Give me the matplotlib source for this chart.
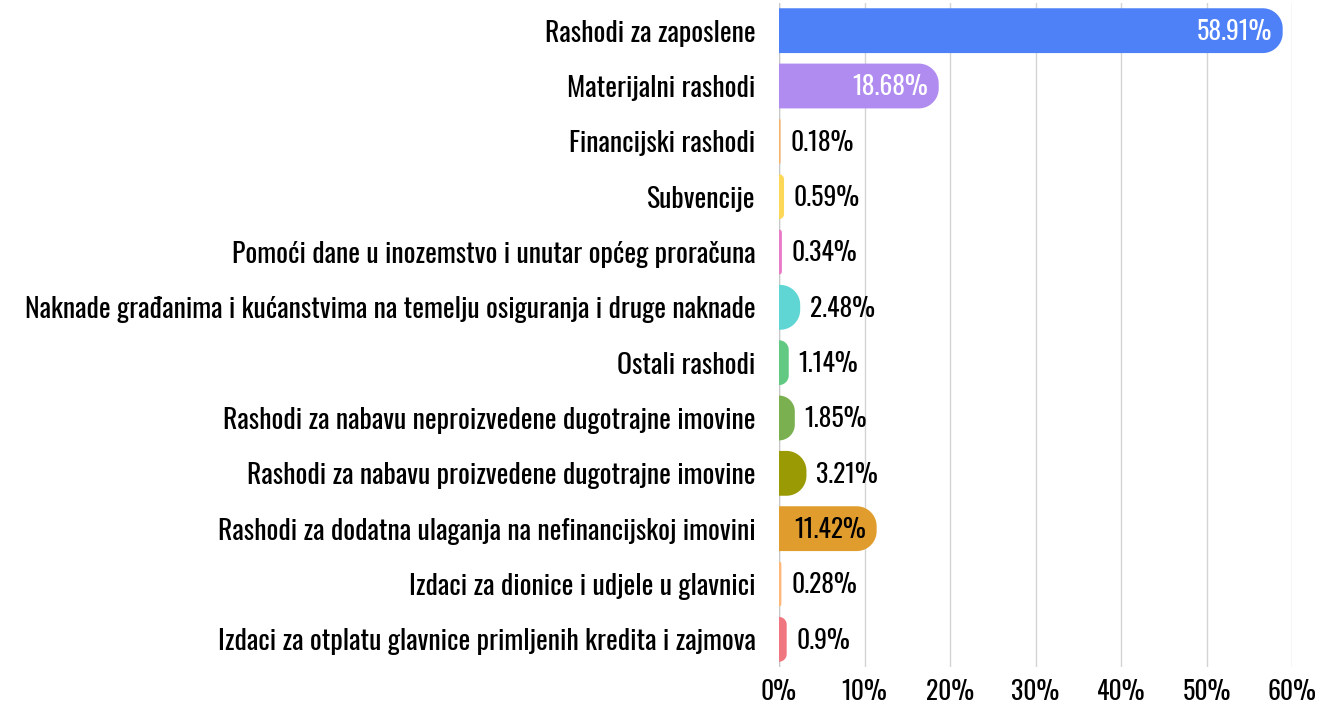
import numpy as np
import matplotlib
matplotlib.use("Agg")
from matplotlib import pyplot as plt
from matplotlib.patches import Polygon

## data
categories = [
    "Rashodi za zaposlene",
    "Materijalni rashodi",
    "Financijski rashodi",
    "Subvencije",
    "Pomoći dane u inozemstvo i unutar općeg proračuna",
    "Naknade građanima i kućanstvima na temelju osiguranja i druge naknade",
    "Ostali rashodi",
    "Rashodi za nabavu neproizvedene dugotrajne imovine",
    "Rashodi za nabavu proizvedene dugotrajne imovine",
    "Rashodi za dodatna ulaganja na nefinancijskoj imovini",
    "Izdaci za dionice i udjele u glavnici",
    "Izdaci za otplatu glavnice primljenih kredita i zajmova",
]
values = [58.91, 18.68, 0.18, 0.59, 0.34, 2.48, 1.14, 1.85, 3.21, 11.42, 0.28, 0.9]
value_labels = ["58.91%", "18.68%", "0.18%", "0.59%", "0.34%", "2.48%", "1.14%",
                "1.85%", "3.21%", "11.42%", "0.28%", "0.9%"]
colors = ["#4e80f7", "#b08cf0", "#f7b26a", "#fcd758", "#e87ac8", "#5fd6d4",
          "#62c983", "#7ab04f", "#9a9a05", "#e09c2c", "#ffb87a", "#f07780"]
xticks = [0, 10, 20, 30, 40, 50, 60]

FONT = ["Oswald", "DejaVu Sans"]

W, H, DPI = 1321, 707, 100
fig = plt.figure(figsize=(W / DPI, H / DPI), dpi=DPI)
left, right, top, bottom = 779, 1292, 3, 667
ax = fig.add_axes([left / W, 1 - bottom / H, (right - left) / W, (bottom - top) / H])

n = len(categories)
ax.set_xlim(0, 60)
ax.set_ylim(n - 0.5, -0.5)

# pixels per data unit (fixed layout)
ppx = (right - left) / 60.0
ppy = (bottom - top) / float(n)
bar_h = 0.81

def rounded_bar(y, w, h, color):
    r = min(20.0, w * ppx, h * ppy / 2)
    rx, ry = r / ppx, r / ppy
    x1 = w - rx
    y0, y1 = y - h / 2, y + h / 2
    t1 = np.linspace(-np.pi / 2, 0, 24)
    t2 = np.linspace(0, np.pi / 2, 24)
    pts = [(0, y0), (x1, y0)]
    pts += list(zip(x1 + rx * np.cos(t1), y0 + ry + ry * np.sin(t1)))
    pts += list(zip(x1 + rx * np.cos(t2), y1 - ry + ry * np.sin(t2)))
    pts += [(x1, y1), (0, y1)]
    ax.add_patch(Polygon(pts, closed=True, facecolor=color, edgecolor="none", zorder=2))

for i, (v, c, lab) in enumerate(zip(values, colors, value_labels)):
    rounded_bar(i, v, bar_h, c)
    if v > 10:
        tc = "white" if v > 15 else "black"
        ax.annotate(lab, xy=(v, i), xytext=(-7.5, -1), textcoords="offset points",
                    ha="right", va="center", fontsize=18.5, color=tc, family=FONT, zorder=3)
    else:
        ax.annotate(lab, xy=(v, i), xytext=(7, -1), textcoords="offset points",
                    ha="left", va="center", fontsize=18.5, color="black", family=FONT, zorder=3)

ax.set_yticks(range(n))
ax.set_yticklabels(categories, family=FONT, fontsize=20)
ax.set_xticks(xticks)
ax.set_xticklabels([str(x) + "%" for x in xticks], family=FONT, fontsize=18.5)
ax.tick_params(axis="y", length=0, pad=17)
ax.tick_params(axis="x", length=0, pad=9)

ax.grid(axis="x", color="#d4d4d4", linewidth=1, zorder=0)
ax.set_axisbelow(True)
for s in ax.spines.values():
    s.set_visible(False)
ax.axvline(0, color="#c8c8c8", linewidth=1, zorder=1)

fig.savefig("out.png", dpi=DPI)
